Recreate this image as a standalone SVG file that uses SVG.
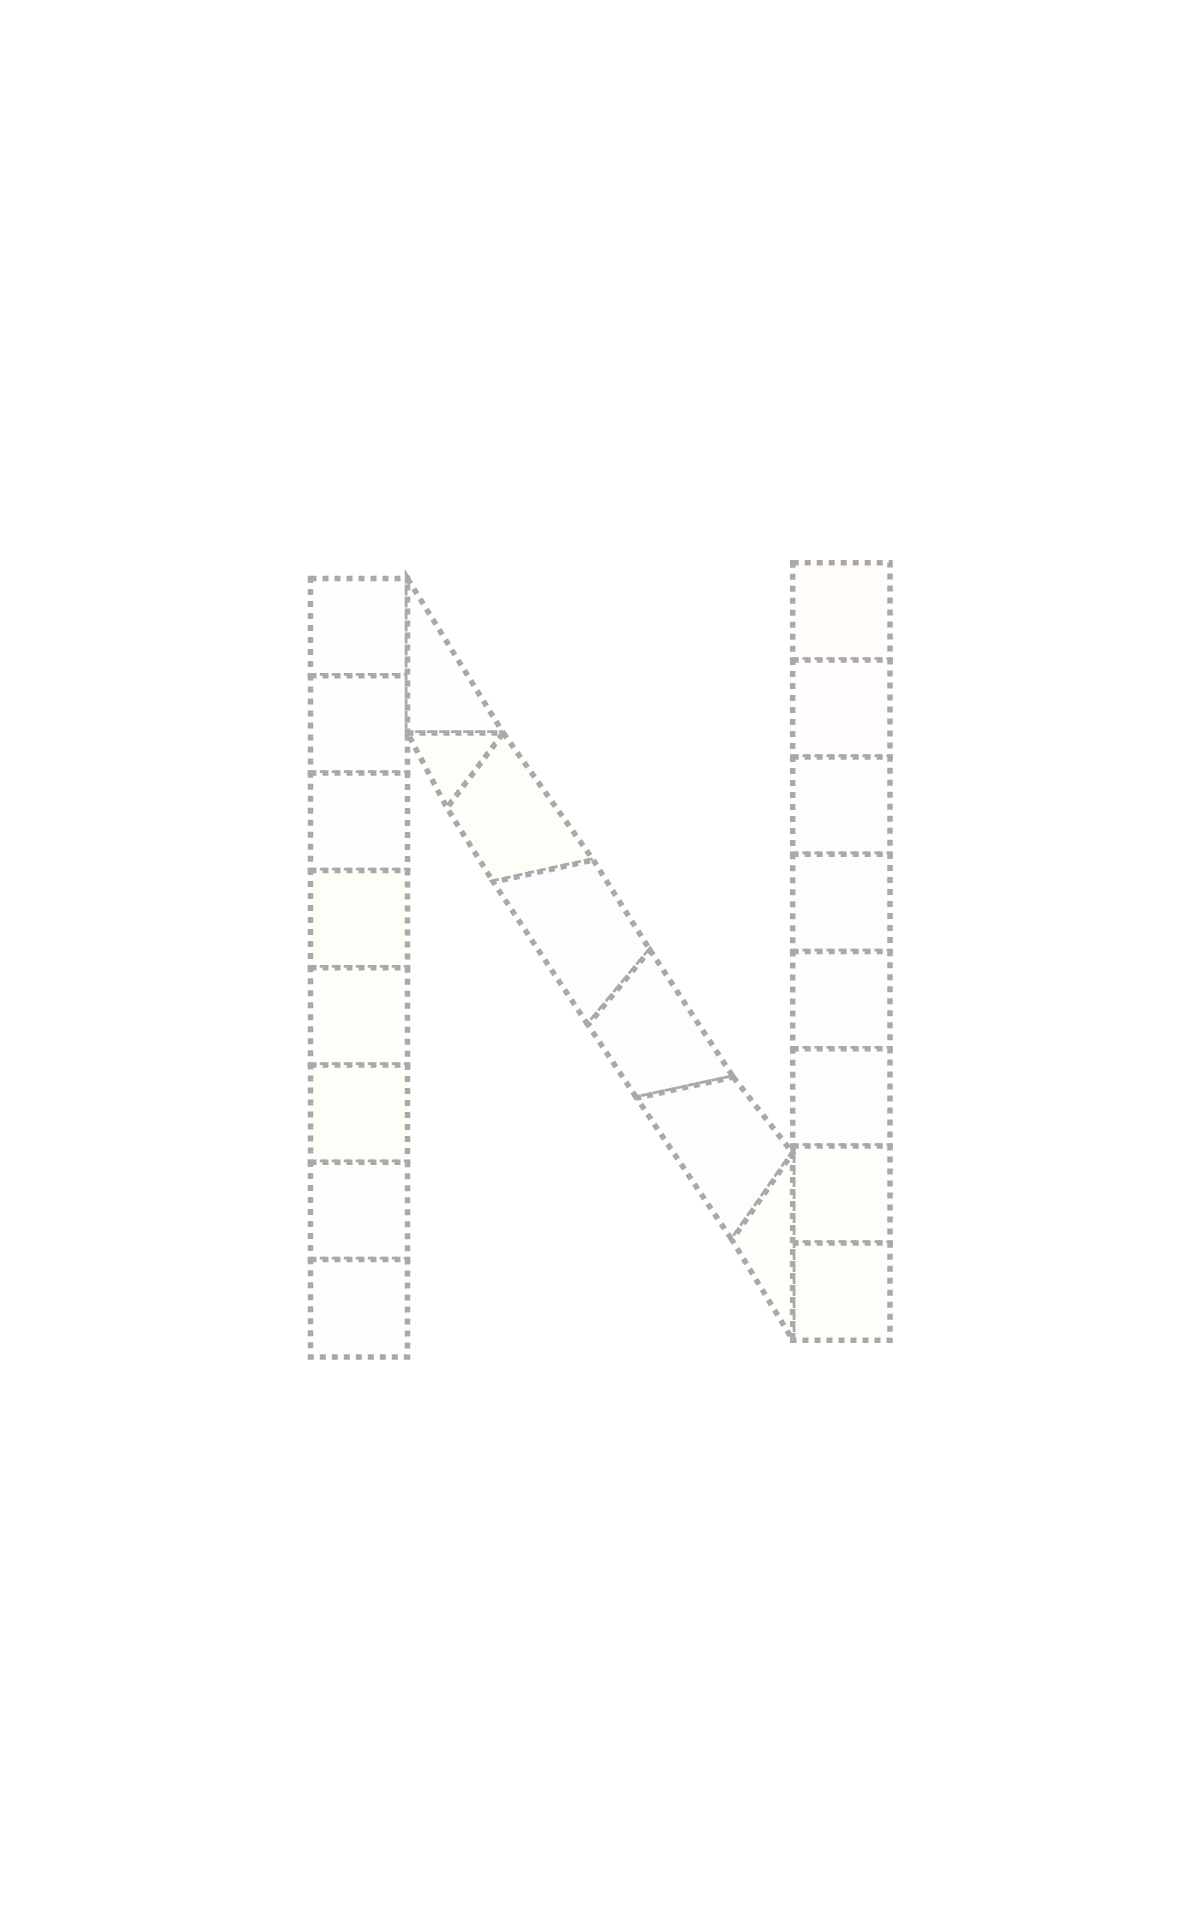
<svg xmlns="http://www.w3.org/2000/svg" width="1200" height="1920" viewBox="0 0 1200 1920">
<style>
.c{stroke:#a9a9a9;stroke-width:5.5;stroke-dasharray:6 6;fill:none}
</style>
<rect width="1200" height="1920" fill="#ffffff"/>
<g id="left-column">
<rect id="L1" class="c" x="310.5" y="578.5" width="97" height="97.3" style="fill:#fefefd"/>
<rect id="L2" class="c" x="310.5" y="675.8" width="97" height="97.3" style="fill:#fefefe"/>
<rect id="L3" class="c" x="310.5" y="773.1" width="97" height="97.3" style="fill:#fefefe"/>
<rect id="L4" class="c" x="310.5" y="870.4" width="97" height="97.3" style="fill:#fefef9"/>
<rect id="L5" class="c" x="310.5" y="967.7" width="97" height="97.3" style="fill:#fefefa"/>
<rect id="L6" class="c" x="310.5" y="1065" width="97" height="97.3" style="fill:#fefef9"/>
<rect id="L7" class="c" x="310.5" y="1162.3" width="97" height="97.3" style="fill:#fefefd"/>
<rect id="L8" class="c" x="310.5" y="1259.6" width="97" height="97.3" style="fill:#fefefd"/>
</g>
<g id="right-column">
<rect id="R1" class="c" x="792.7" y="562.7" width="97.3" height="97.2" style="fill:#fffcf9"/>
<rect id="R2" class="c" x="792.7" y="659.9" width="97.3" height="97.2" style="fill:#fffcfb"/>
<rect id="R3" class="c" x="792.7" y="757.1" width="97.3" height="97.2" style="fill:#fefdfb"/>
<rect id="R4" class="c" x="792.7" y="854.3" width="97.3" height="97.2" style="fill:#fefcfd"/>
<rect id="R5" class="c" x="792.7" y="951.5" width="97.3" height="97.2" style="fill:#fefcfe"/>
<rect id="R6" class="c" x="792.7" y="1048.7" width="97.3" height="97.2" style="fill:#fdfcff"/>
<rect id="R7" class="c" x="792.7" y="1145.9" width="97.3" height="97.2" style="fill:#fefdf9"/>
<rect id="R8" class="c" x="792.7" y="1243.1" width="97.3" height="97.2" style="fill:#fefdfa"/>
</g>
<g id="diagonal">
<polygon id="D1" class="c" points="407.5,578.5 503.3,733 407.5,733" style="fill:#fefefc"/>
<polygon id="D2" class="c" points="407.5,733 503.3,733 447,808" style="fill:#fefef8"/>
<polygon id="D3" class="c" points="503.3,733 593.3,860 493.3,882 447,808" style="fill:#fefef8"/>
<polygon id="D4" class="c" points="593.3,860 650,950 588,1025 493.3,882" style="fill:#fefcfe"/>
<polygon id="D5" class="c" points="650,950 733.3,1077 636.7,1098 588,1025" style="fill:#fefcfe"/>
<polygon id="D6" class="c" points="733.3,1077 792.7,1153 732,1240 636.7,1098" style="fill:#fefcfe"/>
<polygon id="D7" class="c" points="792.7,1153 792.7,1340 732,1240" style="fill:#fefefb"/>
</g>
</svg>
